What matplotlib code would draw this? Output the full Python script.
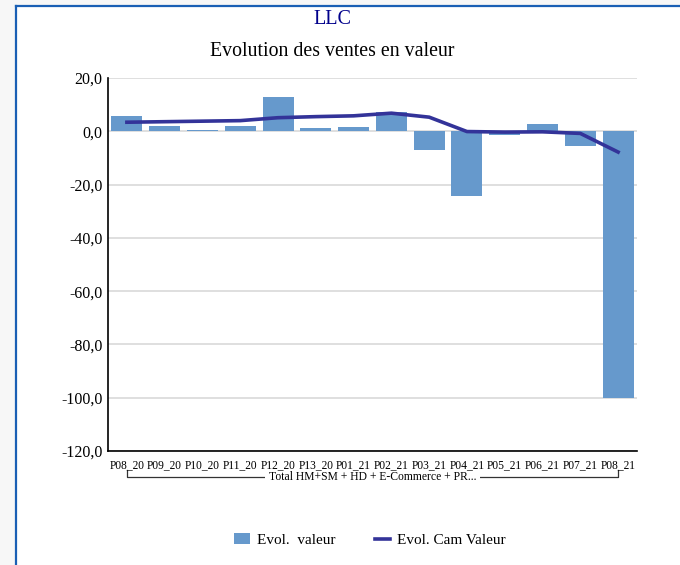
import matplotlib.pyplot as plt
from matplotlib.lines import Line2D
from matplotlib.patches import Rectangle

# data
periods = ["P08_20", "P09_20", "P10_20", "P11_20", "P12_20", "P13_20", "P01_21",
           "P02_21", "P03_21", "P04_21", "P05_21", "P06_21", "P07_21", "P08_21"]
evol_valeur = [5.7, 1.9, 0.5, 1.9, 12.9, 1.2, 1.5, 7.2, -6.9, -24.2, -1.5, 2.8, -5.7, -100.0]
evol_cam = [3.4, 3.6, 3.8, 4.0, 5.1, 5.5, 5.8, 6.8, 5.3, -0.1, -0.3, -0.2, -0.8, -7.8]
y_ticks = [20, 0, -20, -40, -60, -80, -100, -120]
group_label = "Total HM+SM + HD + E-Commerce + PR..."

plt.rcParams["font.family"] = ["Liberation Serif", "DejaVu Serif"]

W, H = 680, 565
fig = plt.figure(figsize=(W / 100, H / 100), dpi=100)
fig.patch.set_facecolor("#f7f7f7")

# white panel with blue left/top border
fig.add_artist(Rectangle((16 / W, 0), 1 - 16 / W, 1 - 6 / H, transform=fig.transFigure,
                         facecolor="white", edgecolor="none", zorder=0))
fig.add_artist(Line2D([16 / W, 16 / W], [0, 1 - 6 / H], transform=fig.transFigure,
                      color="#1a5fb4", lw=1.6))
fig.add_artist(Line2D([16 / W, 1], [1 - 6 / H, 1 - 6 / H], transform=fig.transFigure,
                      color="#1a5fb4", lw=1.6))

# axes: x 108..637 px, y 78..451 px
ax = fig.add_axes([108 / W, (H - 451) / H, (637 - 108) / W, (451 - 78) / H])
ax.set_facecolor("white")

x = list(range(len(periods)))
bars = ax.bar(x, evol_valeur, width=0.82, color="#6699cc", zorder=2, label="Evol.  valeur")
line, = ax.plot(x, evol_cam, color="#333399", lw=2.6, zorder=3, label="Evol. Cam Valeur")

ax.set_xlim(-0.5, len(periods) - 0.5)
ax.set_ylim(-120, 20)
ax.set_yticks(y_ticks)
ax.set_yticklabels([f"{v:.1f}".replace(".", ",") for v in y_ticks], fontsize=11.5)
ax.set_xticks(x)
ax.set_xticklabels(periods, fontsize=8.3)
ax.tick_params(axis="both", length=0)
ax.tick_params(axis="y", pad=4)
ax.tick_params(axis="x", pad=6)

ax.grid(axis="y", color="#d9d9d9", lw=1.2)
ax.set_axisbelow("line")  # axis at zorder 1.5: under bars, over the bracket
for side in ["top", "right"]:
    ax.spines[side].set_visible(False)
ax.spines["left"].set_linewidth(1.2)
ax.spines["bottom"].set_linewidth(1.2)

# group bracket under category labels
tr = ax.get_xaxis_transform()
yb = -0.0697
ax.plot([0, 0, len(periods) - 1, len(periods) - 1], [-0.052, yb, yb, -0.052],
        transform=tr, color="#333333", lw=0.9, clip_on=False, zorder=0.6)
ax.text((len(periods) - 1) / 2, yb, group_label, transform=tr, ha="center", va="center",
        fontsize=8.4, clip_on=False, zorder=0.7,
        bbox=dict(facecolor="white", edgecolor="none", pad=2.5))

# titles
fig.text(332 / W, 1 - 20 / H, "LLC", ha="center", va="center", fontsize=14.5, color="#00008b")
fig.text(332 / W, 1 - 52 / H, "Evolution des ventes en valeur", ha="center", va="center",
         fontsize=14.3, color="black")

fig.legend(handles=[bars, line], loc="center", bbox_to_anchor=(370 / W, 1 - 540 / H),
           ncol=2, frameon=False, fontsize=11, handlelength=1.0, columnspacing=2.6,
           handletextpad=0.45)

fig.savefig("out.png", dpi=100, facecolor=fig.get_facecolor())
